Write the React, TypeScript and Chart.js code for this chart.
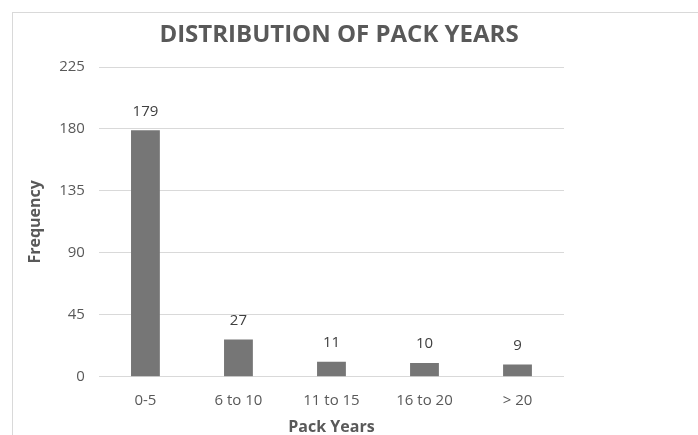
import React, { useEffect, useRef } from "react";
import { Chart, registerables } from "chart.js";

Chart.register(...registerables);

const categories = ["0-5", "6 to 10", "11 to 15", "16 to 20", "> 20"];
const frequency = [179, 27, 11, 10, 9];
const yTicks = [0, 45, 90, 135, 180, 225];
const chartTitle = "DISTRIBUTION OF PACK YEARS";

const FONT = "'Open Sans', 'Liberation Sans', sans-serif";

const valueLabels = {
  id: "valueLabels",
  afterDatasetsDraw(chart: any) {
    const ctx = chart.ctx;
    const meta = chart.getDatasetMeta(0);
    ctx.save();
    ctx.font = `15px ${FONT}`;
    ctx.fillStyle = "#404040";
    ctx.textAlign = "center";
    ctx.textBaseline = "middle";
    meta.data.forEach((bar: any, i: number) => {
      ctx.fillText(String(chart.data.datasets[0].data[i]), bar.x, bar.y - 19);
    });
    ctx.restore();
  },
};

const titlePlugin = {
  id: "customTitle",
  afterDraw(chart: any) {
    const ctx = chart.ctx;
    ctx.save();
    ctx.font = `bold 24px ${FONT}`;
    ctx.fillStyle = "#595959";
    ctx.textAlign = "center";
    ctx.textBaseline = "middle";
    ctx.fillText(chartTitle, 339, 35);
    ctx.restore();
  },
};

export default function App() {
  const ref = useRef<HTMLCanvasElement>(null);
  useEffect(() => {
    if (!ref.current) return;
    const chart = new Chart(ref.current, {
      type: "bar",
      data: {
        labels: categories,
        datasets: [
          {
            data: frequency,
            backgroundColor: "#767676",
            barPercentage: 0.62,
            categoryPercentage: 0.5,
          },
        ],
      },
      options: {
        animation: false,
        responsive: false,
        maintainAspectRatio: false,
        layout: { padding: { left: 26, right: 134, top: 67, bottom: 0 } },
        plugins: {
          legend: { display: false },
          tooltip: { enabled: false },
          title: { display: false },
        },
        scales: {
          x: {
            grid: { display: false },
            border: { display: false },
            ticks: { color: "#595959", font: { family: FONT, size: 15 }, padding: 7 },
            title: {
              display: true,
              text: "Pack Years",
              color: "#595959",
              font: { family: FONT, size: 16, weight: "bold" },
              padding: { top: 1, bottom: 0 },
            },
          },
          y: {
            min: 0,
            max: 225,
            afterBuildTicks(axis: any) {
              axis.ticks = yTicks.map((v) => ({ value: v }));
            },
            grid: { color: "#d9d9d9", lineWidth: 1, drawTicks: false },
            border: { display: false },
            ticks: { color: "#595959", font: { family: FONT, size: 15 }, padding: 14 },
            title: {
              display: true,
              text: "Frequency",
              color: "#595959",
              font: { family: FONT, size: 16, weight: "bold" },
              padding: { top: 0, bottom: 0 },
            },
          },
        },
      },
      plugins: [valueLabels, titlePlugin],
    });
    return () => chart.destroy();
  }, []);
  return (
    <div style={{ position: "fixed", left: 0, top: 0, width: 698, height: 435, background: "#fff", overflow: "hidden" }}>
      <div
        style={{
          position: "absolute",
          left: 12,
          top: 12,
          width: 700,
          height: 440,
          border: "1px solid #d9d9d9",
          boxSizing: "border-box",
        }}
      />
      <canvas ref={ref} width={698} height={437} style={{ position: "absolute", left: 0, top: 0 }} />
    </div>
  );
}
